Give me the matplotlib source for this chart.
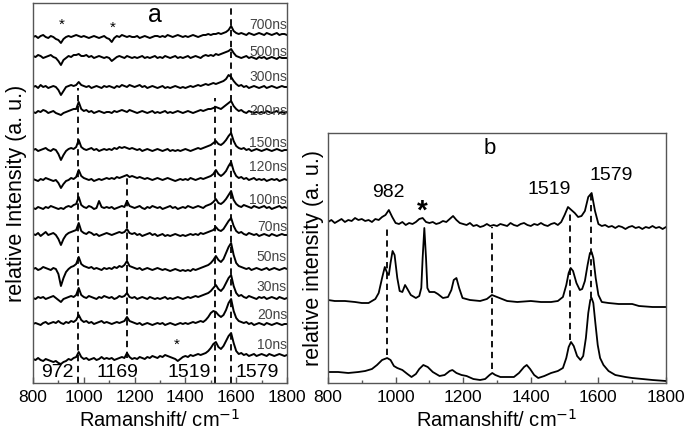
import numpy as np
import matplotlib
matplotlib.use("Agg")
from matplotlib import pyplot as plt

plt.rcParams['font.family'] = ['Liberation Sans', 'DejaVu Sans']

#---------------- Donnees panneau a (spectres resolus en temps) ----------------

shift_a = np.arange(800, 1801, 10)
delays = ["700ns", "500ns", "300ns", "200ns", "150ns", "120ns",
          "100ns", "70ns", "50ns", "30ns", "20ns", "10ns"]
offsets_a = [346, 326, 296, 271, 233, 203, 175, 148, 114, 85, 59, 22]

s_700 = [0, 1, -1, 1, 2, 0, -1, 1, 0, -2,
         -3, -6, -2, 0, 1, 0, 1, 2, 1, 0,
         1, 0, -1, 0, 1, 0, -1, 0, 1, -1,
         -2, -5, -1, 1, 0, 2, 1, 0, 1, 0,
         0, 1, -1, 0, 1, 0, -1, 0, 1, 1,
         0, 1, 0, 2, 1, 0, 1, 2, 1, 0,
         1, 0, 1, 2, 1, 0, 1, 2, 2, 3,
         2, 3, 3, 4, 3, 4, 5, 7, 11, 6,
         4, 3, 4, 3, 2, 4, 3, 2, 3, 4,
         3, 2, 4, 3, 2, 3, 4, 2, 3, 3,
         2]
s_500 = [1, 0, 2, 1, -1, 0, 1, 2, 0, -1,
         -4, -8, -3, -1, 1, 0, 2, 2, 3, 1,
         1, 2, 0, 1, -1, 0, 1, 0, -1, 0,
         -1, -4, -2, 0, 1, 0, -1, 1, 0, -1,
         0, -1, 0, 1, -1, 0, -1, 0, 1, -1,
         0, -1, 1, 0, -1, 0, 1, -1, 0, -1,
         0, 1, -1, 0, 1, 0, -1, 1, 2, 1,
         2, 1, 3, 2, 3, 4, 5, 6, 8, 4,
         1, 0, -1, 0, 1, -1, 0, -1, -2, 0,
         -1, 0, -2, -1, 0, -1, -2, 0, -1, -1,
         -1]
s_300 = [0, 1, -1, 2, 0, 1, -1, 0, 1, 0,
         -3, -8, -4, 0, 1, 2, 1, 2, 5, 2,
         1, 0, 1, -1, 0, 1, 0, -1, 1, 0,
         1, 0, -1, 1, 0, 2, 1, 0, 2, 1,
         0, 1, 2, 0, 1, -1, 0, 1, 0, -1,
         0, 1, -1, 0, -1, 0, 1, 0, -1, 0,
         -1, 0, 1, 0, 1, 2, 1, 2, 3, 2,
         3, 4, 3, 4, 5, 6, 8, 12, 10, 6,
         3, 1, 2, 0, 1, -1, 0, 1, 0, -1,
         0, 1, -1, 0, 1, 0, -1, 0, 1, 0,
         0]
s_200 = [0, -1, 1, 0, 2, 1, -1, 0, 1, -1,
         -2, -3, -1, 0, 1, 2, 3, 3, 10, 3,
         1, 2, 0, 1, -1, 0, 1, 0, -1, 0,
         0, -1, 1, 0, 1, 2, 1, 0, 2, 1,
         0, -1, 0, 1, 0, -1, 0, 1, -1, 0,
         -1, 0, 1, -1, 0, -1, 0, 1, 0, -1,
         0, 1, 0, -1, 0, 1, 2, 1, 2, 3,
         3, 4, 5, 4, 3, 5, 7, 9, 11, 6,
         3, 1, 2, 0, -1, 1, 0, -1, 0, -1,
         0, -1, 1, 0, -1, 0, 1, -1, 0, -1,
         0]
s_150 = [0, 1, -1, 0, 1, 2, 0, -1, 1, 0,
         -4, -10, -5, -1, 1, 2, 1, 3, 10, 3,
         1, 0, 1, 2, 0, 1, -1, 0, 1, 0,
         1, 0, 2, 1, 3, 2, 3, 2, 1, 2,
         1, 0, 1, -1, 0, 1, 0, -1, 0, 1,
         0, -1, 0, 1, -1, 0, -1, 0, -1, 0,
         1, 0, -1, 0, 1, 2, 1, 2, 3, 4,
         5, 7, 9, 6, 5, 7, 10, 14, 17, 9,
         4, 2, 1, 2, 0, 1, -1, 0, 1, 0,
         -1, 0, 1, 0, -1, 0, 1, 0, -1, 0,
         0]
s_120 = [1, 0, -1, 1, 0, 2, 1, 0, -1, 0,
         -3, -8, -4, -1, 0, 2, 1, 3, 10, 4,
         2, 1, 0, 1, -1, 0, 1, 0, 1, 2,
         1, 2, 1, 3, 2, 3, 4, 5, 3, 4,
         3, 2, 3, 2, 1, 2, 1, 0, 1, 2,
         1, 0, 1, 2, 1, 0, -1, 0, 1, 0,
         1, 0, 2, 1, 0, 1, 2, 1, 2, 3,
         4, 6, 10, 6, 4, 6, 9, 14, 18, 9,
         4, 2, 3, 1, 2, 0, 1, 2, 0, 1,
         0, 1, -1, 0, 1, 0, 1, -1, 0, 1,
         0]
s_100 = [0, -1, 1, 0, -1, 1, 0, 2, 1, 0,
         -1, 0, -1, 1, 2, 1, 3, 4, 11, 3,
         1, 0, 2, 1, -1, 0, 7, 1, 0, 1,
         0, 1, -1, 0, 1, 2, 1, 7, 2, 1,
         0, 1, 2, 0, -1, 1, 0, 2, 1, 0,
         1, -1, 0, 1, 2, 0, 1, -1, 0, 1,
         0, 2, 1, 0, 1, 2, 1, 0, 2, 3,
         4, 6, 9, 5, 4, 6, 9, 13, 17, 8,
         4, 2, 1, 3, 2, 1, 0, 2, 1, 0,
         1, 2, 0, 1, -1, 0, 1, 2, 0, 1,
         0]
s_70 = [1, 0, 2, -1, 1, 3, 0, 1, 2, 0,
        -4, -10, -4, 0, 2, 3, 4, 5, 12, 4,
        2, 1, 3, 2, 0, 1, -1, 0, 1, 2,
        1, 0, 1, 2, 3, 2, 3, 6, 2, 1,
        2, 0, 1, -1, 0, 1, 2, 0, 1, -1,
        0, 1, -1, 0, -1, 0, 1, 0, -1, 0,
        -1, 0, 1, 0, 1, 0, 2, 1, 2, 3,
        4, 5, 8, 5, 4, 6, 10, 14, 17, 9,
        4, 2, 3, 1, 0, 2, 1, 0, 1, -1,
        0, 1, 0, -1, 1, 0, -1, 0, 1, 0,
        0]
s_50 = [0, 1, -1, 0, 2, 1, 0, -1, 1, 0,
        -5, -17, -9, -3, 0, 2, 3, 5, 12, 5,
        3, 2, 1, 2, 0, 1, 0, -1, 1, 0,
        1, 0, 2, 1, 3, 2, 4, 8, 3, 2,
        1, 0, 1, -1, 0, 1, 0, -1, 0, 1,
        0, -1, 0, -1, -2, -1, 0, -1, -2, -1,
        -2, -1, -2, 0, -1, 0, 1, 2, 3, 4,
        6, 9, 13, 9, 7, 10, 16, 22, 26, 14,
        6, 3, 2, 1, 0, 1, -1, 0, 1, 0,
        -1, 0, 1, -1, 0, 1, 0, -1, 0, 1,
        0]
s_30 = [0, -1, 1, 0, 1, -1, 0, 1, 2, 0,
        -2, -4, -1, 0, 1, 2, 1, 3, 10, 3,
        1, 0, 2, 1, 0, -1, 1, 0, 2, 1,
        0, 1, -1, 0, 2, 1, 2, 5, 1, 0,
        1, -1, 0, 1, 0, -1, 1, 0, -1, 0,
        -1, 0, 1, -1, 0, -1, 0, 1, 0, -1,
        0, 1, 0, 1, 2, 1, 2, 3, 4, 5,
        7, 10, 13, 9, 7, 10, 15, 20, 23, 12,
        5, 2, 3, 1, 0, 2, 1, 0, -1, 1,
        0, 1, -1, 0, 1, 0, -1, 1, 0, -1,
        0]
s_20 = [0, 1, 0, -1, 1, 2, 0, 1, 2, 1,
        3, 1, 0, 2, 1, 3, 2, 4, 9, 4,
        2, 3, 1, 2, 0, 1, 2, 3, 1, 2,
        1, 0, 1, 2, 1, 2, 3, 7, 3, 2,
        1, 0, 1, -1, 0, 1, 0, -1, 0, 1,
        0, 1, -1, 0, 1, 0, -1, 0, 1, 0,
        1, 0, 1, 2, 1, 2, 3, 2, 4, 7,
        11, 13, 12, 9, 7, 9, 14, 21, 25, 13,
        6, 3, 2, 1, 2, 0, 1, -1, 0, 1,
        0, -1, 1, 0, -1, 0, 1, 0, -1, 0,
        0]
s_10 = [2, 1, 3, 1, 0, 2, 1, 0, -1, 0,
        -2, -3, -1, 0, 2, 1, 3, 4, 9, 4,
        2, 3, 1, 2, 3, 1, 2, 4, 2, 3,
        2, 3, 1, 2, 3, 4, 3, 8, 4, 2,
        3, 2, 4, 3, 2, 4, 3, 5, 4, 3,
        5, 4, 6, 5, 4, 3, 2, 0, 2, 4,
        5, 4, 6, 5, 6, 7, 6, 7, 8, 10,
        13, 17, 19, 14, 12, 15, 20, 25, 28, 18,
        10, 7, 8, 6, 7, 5, 6, 7, 5, 6,
        7, 6, 5, 7, 6, 5, 6, 7, 6, 5,
        6]
spectra_a = [s_700, s_500, s_300, s_200, s_150, s_120,
             s_100, s_70, s_50, s_30, s_20, s_10]

peaks_a = [978, 1169, 1517, 1579]
peak_text_a = ["972", "1169", "1519", "1579"]

#---------------- Donnees panneau b ----------------

shift_b_top = np.arange(800, 1801, 10)
b_top = [161, 163, 160, 162, 164, 161, 163, 162, 165, 163,
         164, 162, 163, 161, 164, 163, 166, 168, 173, 166,
         160, 159, 161, 158, 160, 159, 161, 164, 165, 161,
         160, 161, 159, 160, 162, 161, 164, 167, 163, 160,
         159, 158, 160, 157, 158, 156, 157, 159, 157, 158,
         157, 159, 158, 157, 160, 158, 157, 159, 160, 158,
         157, 159, 158, 160, 158, 157, 159, 160, 158, 161,
         168, 176, 173, 170, 166, 167, 172, 186, 190, 172,
         159, 157, 158, 156, 157, 155, 157, 156, 154, 156,
         157, 155, 156, 154, 156, 155, 157, 155, 156, 154,
         156]

shift_b_mid = [800, 820, 850, 880, 900, 920, 940, 950, 960, 968, 975, 980,
               985, 991, 997, 1005, 1012, 1020, 1028, 1035, 1045, 1060, 1070,
               1076, 1080, 1085, 1090, 1094, 1100, 1115, 1125, 1140, 1155,
               1165, 1172, 1180, 1188, 1198, 1220, 1250, 1270, 1285, 1300,
               1330, 1360, 1400, 1430, 1460, 1480, 1495, 1505, 1512, 1518,
               1525, 1535, 1545, 1552, 1560, 1568, 1575, 1580, 1585, 1592,
               1600, 1610, 1630, 1660, 1690, 1700, 1720, 1760, 1800]
b_mid = [83, 82, 82, 81, 80, 80, 84, 90, 105, 116, 110, 108,
         120, 132, 128, 105, 92, 91, 98, 94, 88, 85, 87,
         95, 125, 155, 125, 95, 91, 91, 89, 85, 86,
         93, 103, 105, 95, 85, 83, 82, 84, 88, 86,
         82, 81, 82, 81, 81, 82, 86, 98, 110, 115,
         112, 100, 93, 94, 102, 118, 130, 131, 125, 105,
         88, 81, 80, 79, 79, 79, 77, 76, 76]

shift_b_bot = [800, 830, 860, 890, 910, 930, 945, 960, 975, 985, 995, 1005,
               1020, 1035, 1047, 1060, 1070, 1082, 1095, 1110, 1130, 1145,
               1160, 1168, 1180, 1195, 1210, 1230, 1250, 1265, 1278, 1286,
               1295, 1310, 1330, 1350, 1365, 1380, 1388, 1398, 1410, 1422,
               1440, 1460, 1480, 1495, 1505, 1512, 1519, 1527, 1537, 1547,
               1555, 1563, 1570, 1576, 1580, 1585, 1591, 1598, 1605, 1615,
               1630, 1650, 1680, 1700, 1730, 1760, 1800]
b_bot = [11, 11, 10, 11, 12, 14, 18, 23, 25, 23, 17, 15,
         13, 9, 6, 9, 14, 18, 16, 11, 7, 8,
         12, 13, 10, 8, 7, 4, 3, 4, 8, 10,
         8, 6, 6, 6, 10, 16, 18, 14, 8, 5,
         7, 10, 12, 15, 25, 36, 41, 37, 27, 23,
         27, 45, 70, 83, 85, 80, 60, 38, 25, 18,
         12, 8, 6, 5, 4, 3, 2]

peaks_b = [976, 1285, 1517, 1578]

#---------------- Figure ----------------

fig = plt.figure(figsize=(6.85, 4.36), dpi=100)
ax_a = fig.add_axes([33 / 685, 53 / 436, 254 / 685, 380 / 436])
ax_b = fig.add_axes([328 / 685, 53 / 436, 338 / 685, 250 / 436])

def style_axes(ax, ymax):
    ax.set_xlim(800, 1800)
    ax.set_ylim(0, ymax)
    ax.set_xticks(np.arange(800, 1801, 200))
    ax.set_xticks(np.arange(900, 1800, 200), minor=True)
    ax.set_yticks([])
    ax.tick_params(axis='x', which='major', direction='in', length=4,
                   width=1, labelsize=12.5, pad=5, color='#555555')
    ax.tick_params(axis='x', which='minor', direction='in', length=2.5,
                   width=1, color='#555555')
    for sp in ax.spines.values():
        sp.set_color('#555555')
        sp.set_linewidth(1.0)
    ax.set_xlabel("Ramanshift/ cm$^{-1}$", fontsize=14.5, labelpad=3)

#--- panneau a
style_axes(ax_a, 380)
dash_a = [(0, 295), (25, 208), (0, 285), (0, 380)]
for x, (y0, y1) in zip(peaks_a, dash_a):
    ax_a.plot([x, x], [y0, y1], color='black', lw=1.3, dashes=(3.5, 2.5),
              zorder=1)

label_y = [358, 331, 306, 272, 240, 216, 183, 156, 126, 96, 68, 38]
for s, off, d, ly in zip(spectra_a, offsets_a, delays, label_y):
    ax_a.plot(shift_a, np.array(s) + off, color='black', lw=1.4, zorder=2)
    ax_a.text(1800, ly, d, ha='right', va='center', fontsize=10,
              color='#444444', zorder=3)

label_x = [894, 1131, 1414, 1682]
for x, t in zip(label_x, peak_text_a):
    ax_a.text(x, 11, t, ha='center', va='center', fontsize=14)

ax_a.text(914, 358, "*", ha='center', va='center', fontsize=11)
ax_a.text(1115, 355, "*", ha='center', va='center', fontsize=11)
ax_a.text(1367, 38, "*", ha='center', va='center', fontsize=11)
ax_a.text(1280, 368, "a", ha='center', va='center', fontsize=18)
ax_a.set_ylabel("relative Intensity (a. u.)", fontsize=15.5, labelpad=4)

#--- panneau b
style_axes(ax_b, 250)
dash_b = [(28, 158), (14, 156), (43, 173), (85, 188)]
for x, (y0, y1) in zip(peaks_b, dash_b):
    ax_b.plot([x, x], [y0, y1], color='black', lw=1.3, dashes=(3.5, 2.5),
              zorder=1)

ax_b.plot(shift_b_top, b_top, color='black', lw=1.3, zorder=2)
ax_b.plot(shift_b_mid, b_mid, color='black', lw=1.3, zorder=2)
ax_b.plot(shift_b_bot, b_bot, color='black', lw=1.3, zorder=2)

ax_b.text(979, 191, "982", ha='center', va='center', fontsize=14)
ax_b.text(1079, 171, "*", ha='center', va='center', fontsize=20,
          fontweight='bold')
ax_b.text(1453, 193, "1519", ha='center', va='center', fontsize=14)
ax_b.text(1638, 208, "1579", ha='center', va='center', fontsize=14)
ax_b.text(1279, 235, "b", ha='center', va='center', fontsize=16)
ax_b.set_ylabel("relative intensity (a. u.)", fontsize=15.5, labelpad=3)

# le dernier libelle de b touche le bord droit : on le decale un peu
ax_b.get_xticklabels()[-1].set_horizontalalignment('center')
ax_b.get_xticklabels()[-1].set_x(1795)

fig.savefig("out.png", dpi=100)
